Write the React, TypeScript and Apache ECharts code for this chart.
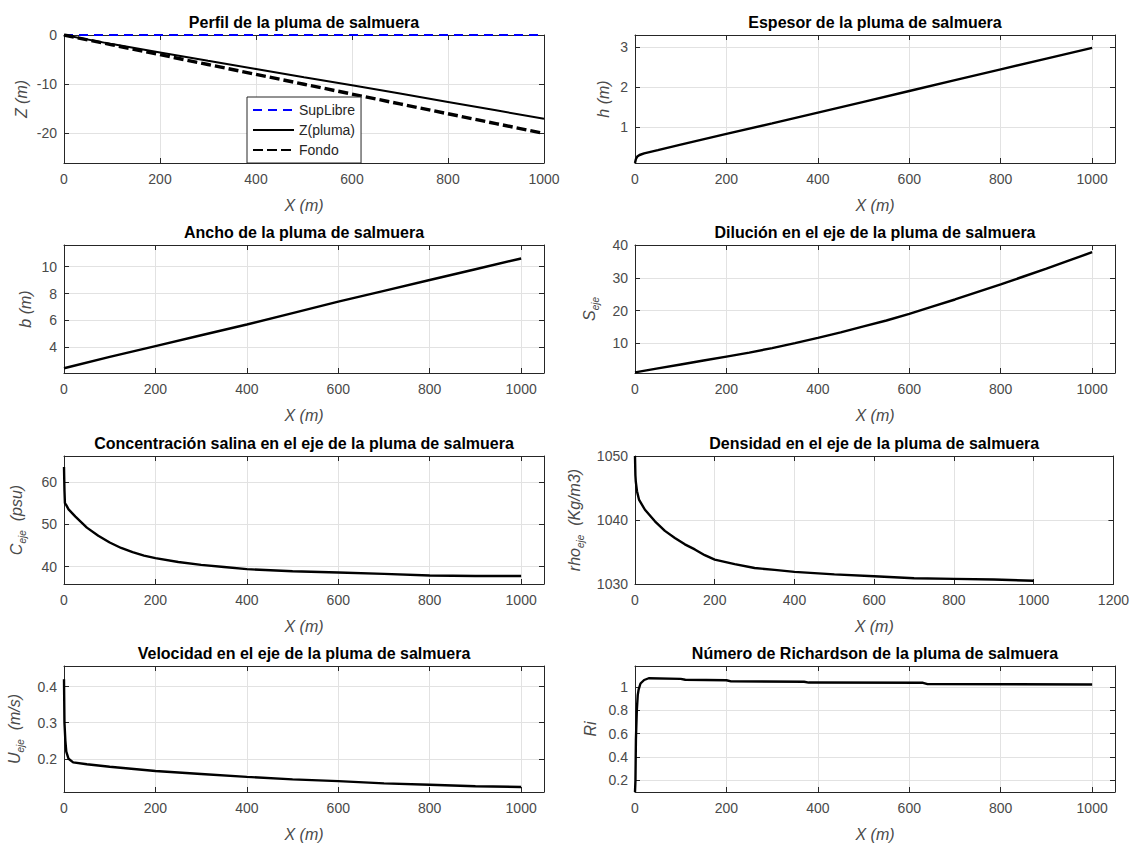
import React, { useEffect, useRef } from "react";
import * as echarts from "echarts";

// ---------- DATA ----------
const profX = [0, 100, 200, 300, 400, 500, 600, 700, 800, 900, 1000];
const supLibre = [0, 0, 0, 0, 0, 0, 0, 0, 0, 0, 0];
const zPluma = [0, -1.85, -3.55, -5.25, -6.9, -8.6, -10.2, -11.9, -13.6, -15.3, -17.0];
const fondo = [0, -2, -4, -6, -8, -10, -12, -14, -16, -18, -20];

const espX = [0, 2, 5, 10, 20, 50, 100, 200, 300, 400, 500, 600, 700, 800, 900, 1000];
const espH = [0.1, 0.2, 0.26, 0.3, 0.34, 0.42, 0.56, 0.83, 1.09, 1.36, 1.63, 1.9, 2.17, 2.44, 2.71, 2.98];

const anchoX = [0, 100, 200, 300, 400, 500, 600, 700, 800, 900, 1000];
const anchoB = [2.45, 3.3, 4.1, 4.9, 5.7, 6.55, 7.4, 8.2, 9.0, 9.8, 10.6];

const dilX = [0, 50, 100, 150, 200, 250, 300, 350, 400, 450, 500, 550, 600, 650, 700, 750, 800, 850, 900, 950, 1000];
const dilS = [1.2, 2.4, 3.6, 4.8, 6.0, 7.2, 8.6, 10.1, 11.7, 13.4, 15.2, 17.0, 19.0, 21.2, 23.4, 25.7, 28.0, 30.4, 32.8, 35.3, 37.8];

const concX = [0, 1, 2, 5, 10, 25, 50, 75, 100, 125, 150, 175, 200, 250, 300, 350, 400, 500, 600, 700, 800, 900, 1000];
const concC = [63.5, 58, 55, 54.5, 53.5, 51.8, 49.2, 47.3, 45.7, 44.4, 43.4, 42.6, 42.0, 41.1, 40.4, 39.9, 39.4, 38.9, 38.6, 38.3, 37.9, 37.8, 37.8];

const densX = [0, 1, 2, 5, 10, 25, 50, 75, 100, 125, 150, 175, 200, 250, 300, 350, 400, 500, 600, 700, 800, 900, 1000];
const densRho = [1050, 1047, 1046, 1044.5, 1043.2, 1041.6, 1039.8, 1038.3, 1037.2, 1036.2, 1035.4, 1034.5, 1033.8, 1033.1, 1032.5, 1032.2, 1031.9, 1031.5, 1031.2, 1030.9, 1030.8, 1030.7, 1030.5];

const velX = [0, 1, 3, 5, 10, 20, 50, 100, 200, 300, 400, 500, 600, 700, 800, 900, 1000];
const velU = [0.42, 0.3, 0.25, 0.22, 0.2, 0.19, 0.185, 0.178, 0.166, 0.158, 0.15, 0.143, 0.138, 0.132, 0.128, 0.124, 0.122];

const riX = [0, 1, 2, 4, 6, 8, 12, 20, 30, 100, 110, 200, 210, 370, 380, 630, 640, 1000];
const riV = [0.1, 0.2, 0.55, 0.8, 0.93, 0.98, 1.03, 1.06, 1.075, 1.07, 1.062, 1.058, 1.048, 1.045, 1.038, 1.036, 1.025, 1.022];

// tick labels
const zTicks = [-20, -10, 0];
const hTicks = [1, 2, 3];
const bTicks = [4, 6, 8, 10];
const sTicks = [10, 20, 30, 40];
const cTicks = [40, 50, 60];
const rhoTicks = [1030, 1040, 1050];
const uTicks = [0.2, 0.3, 0.4];
const riTicks = [0.2, 0.4, 0.6, 0.8, 1];

const titles = [
  "Perfil de la pluma de salmuera",
  "Espesor de la pluma de salmuera",
  "Ancho de la pluma de salmuera",
  "Diluci\u00f3n en el eje de la pluma de salmuera",
  "Concentraci\u00f3n salina en el eje de la pluma de salmuera",
  "Densidad en el eje de la pluma de salmuera",
  "Velocidad en el eje de la pluma de salmuera",
  "N\u00famero de Richardson de la pluma de salmuera",
];

// ---------- LAYOUT / STYLE ----------
const FONT = "'Liberation Sans', Arial, Helvetica, sans-serif";
const AX = "#262626";
const LBL = "#4a4a4a";
const GRIDC = "#e2e2e2";
const LEFTS = [64, 635];
const TOPS = [35, 245, 456, 666];
const GW = 480;
const GH = 128;

const zip = (xs: number[], ys: number[]) => xs.map((x, i) => [x, ys[i]]);
const fmt = (v: number) => String(Math.round(v * 1000) / 1000);

const nameStyleBase = { fontSize: 16, fontStyle: "italic" as const, color: LBL, fontFamily: FONT };
const richSub = {
  m: { fontSize: 16, fontStyle: "italic", color: LBL, fontFamily: FONT, lineHeight: 22 },
  s: { fontSize: 10, fontStyle: "italic", color: LBL, fontFamily: FONT, verticalAlign: "bottom" },
};

type Panel = {
  xMax: number;
  yMin: number;
  yMax: number;
  yTicks: number[];
  yName: string;
  nameGap: number;
  rich?: boolean;
  series: any[];
};

const line = (name: string, xs: number[], ys: number[], extra: any = {}) => ({ name, xs, ys, extra });

const panels: Panel[] = [
  {
    xMax: 1000, yMin: -26, yMax: 0, yTicks: zTicks, yName: "Z (m)", nameGap: 35,
    series: [
      line("SupLibre", profX, supLibre, { lineStyle: { color: "#0000ff", width: 2, type: [9, 6] } }),
      line("Z(pluma)", profX, zPluma, { lineStyle: { color: "#000", width: 2 } }),
      line("Fondo", profX, fondo, { lineStyle: { color: "#000", width: 3.4, type: [10, 4] } }),
    ],
  },
  { xMax: 1050, yMin: 0.1, yMax: 3.3, yTicks: hTicks, yName: "h (m)", nameGap: 24,
    series: [line("h", espX, espH)] },
  { xMax: 1050, yMin: 2.1, yMax: 11.6, yTicks: bTicks, yName: "b (m)", nameGap: 31,
    series: [line("b", anchoX, anchoB)] },
  { xMax: 1050, yMin: 1, yMax: 40, yTicks: sTicks, yName: "{m|S}{s|eje}", nameGap: 35, rich: true,
    series: [line("S", dilX, dilS)] },
  { xMax: 1050, yMin: 35.9, yMax: 66.1, yTicks: cTicks, yName: "{m|C}{s|eje}{m|  (psu)}", nameGap: 37, rich: true,
    series: [line("C", concX, concC)] },
  { xMax: 1200, yMin: 1030, yMax: 1050, yTicks: rhoTicks, yName: "{m|rho}{s|eje}{m|  (Kg/m3)}", nameGap: 50, rich: true,
    series: [line("rho", densX, densRho)] },
  { xMax: 1050, yMin: 0.108, yMax: 0.457, yTicks: uTicks, yName: "{m|U}{s|eje}{m|  (m/s)}", nameGap: 39, rich: true,
    series: [line("U", velX, velU)] },
  { xMax: 1050, yMin: 0.1, yMax: 1.18, yTicks: riTicks, yName: "Ri", nameGap: 37,
    series: [line("Ri", riX, riV)] },
];

function buildOption() {
  const grid: any[] = [];
  const xAxis: any[] = [];
  const yAxis: any[] = [];
  const series: any[] = [];

  panels.forEach((p, i) => {
    const col = i % 2;
    const row = Math.floor(i / 2);
    grid.push({ left: LEFTS[col], top: TOPS[row], width: GW, height: GH, show: true, backgroundColor: "#fff", borderWidth: 0 });

    const axisLine = { show: true, onZero: false, lineStyle: { color: AX, width: 1 } };
    const tickStyle = { color: AX, width: 1 };

    xAxis.push({
      type: "value", gridIndex: i, position: "bottom", min: 0, max: p.xMax, interval: 200,
      axisLine, axisTick: { show: true, inside: true, length: 5, lineStyle: tickStyle },
      axisLabel: { show: true, fontSize: 14, color: LBL, fontFamily: FONT, margin: 9, formatter: fmt, showMaxLabel: p.xMax % 200 === 0 },
      splitLine: { show: true, lineStyle: { color: GRIDC, width: 1 } },
      name: "X (m)", nameLocation: "middle", nameGap: 34, nameTextStyle: nameStyleBase,
    });
    xAxis.push({
      type: "value", gridIndex: i, position: "top", min: 0, max: p.xMax, interval: 200,
      axisLine, axisTick: { show: true, inside: true, length: 5, lineStyle: tickStyle },
      axisLabel: { show: false }, splitLine: { show: false },
      name: titles[i], nameLocation: "middle", nameGap: 5,
      nameTextStyle: { fontSize: 16, fontWeight: "bold", color: "#000", fontFamily: FONT },
    });
    yAxis.push({
      type: "value", gridIndex: i, position: "left", min: p.yMin, max: p.yMax,
      axisLine, axisTick: { show: true, inside: true, length: 5, lineStyle: tickStyle, customValues: p.yTicks },
      axisLabel: { show: true, fontSize: 14, color: LBL, fontFamily: FONT, margin: 7, formatter: fmt, customValues: p.yTicks },
      splitLine: { show: true, lineStyle: { color: GRIDC, width: 1 } },
      name: p.yName, nameLocation: "middle", nameGap: p.nameGap, nameRotate: 90,
      nameTextStyle: p.rich ? { ...nameStyleBase, rich: richSub } : nameStyleBase,
    });
    yAxis.push({
      type: "value", gridIndex: i, position: "right", min: p.yMin, max: p.yMax,
      axisLine, axisTick: { show: true, inside: true, length: 5, lineStyle: tickStyle, customValues: p.yTicks },
      axisLabel: { show: false, customValues: p.yTicks }, splitLine: { show: false },
    });

    p.series.forEach((s) => {
      series.push({
        type: "line",
        name: s.name,
        xAxisIndex: 2 * i,
        yAxisIndex: 2 * i,
        data: zip(s.xs, s.ys),
        symbol: "none",
        showSymbol: false,
        clip: true,
        lineStyle: { color: "#000", width: 2.4 },
        itemStyle: { color: (s.extra.lineStyle && s.extra.lineStyle.color) || "#000" },
        ...s.extra,
      });
    });
  });

  return {
    animation: false,
    backgroundColor: "#fff",
    textStyle: { fontFamily: FONT },
    grid,
    xAxis,
    yAxis,
    series,
    legend: {
      data: ["SupLibre", "Z(pluma)", "Fondo"],
      orient: "vertical",
      left: 247,
      top: 97,
      itemWidth: 41,
      itemHeight: 14,
      itemGap: 6,
      padding: [6, 6, 6, 5],
      backgroundColor: "#fff",
      borderColor: AX,
      borderWidth: 1,
      borderRadius: 0,
      selectedMode: false,
      itemStyle: { opacity: 0 },
      textStyle: { fontSize: 14, color: AX, fontFamily: FONT },
    },
  };
}

export default function App() {
  const ref = useRef<HTMLDivElement>(null);
  useEffect(() => {
    if (!ref.current) return;
    const chart = echarts.init(ref.current, undefined, { renderer: "svg" });
    chart.setOption(buildOption() as any);
    return () => chart.dispose();
  }, []);
  return (
    <div
      ref={ref}
      style={{ position: "absolute", left: 0, top: 0, width: 1132, height: 843, background: "#fff" }}
    />
  );
}
